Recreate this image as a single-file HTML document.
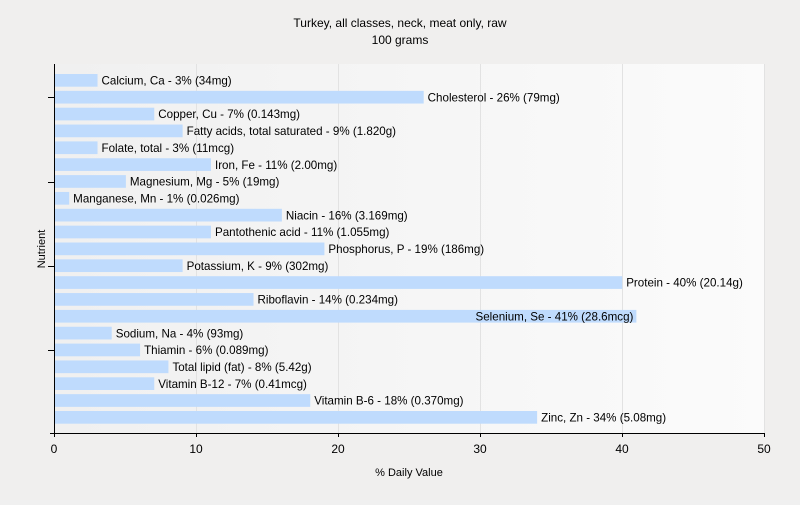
<!DOCTYPE html>
<html><head><style>
body{margin:0;width:800px;height:500px;background:#f0f0f0;font-family:"Liberation Sans",sans-serif;overflow:hidden}
</style></head><body>
<svg width="800" height="500" xmlns="http://www.w3.org/2000/svg" font-family="Liberation Sans, sans-serif">
<defs><linearGradient id="g" x1="0" x2="1" y1="0" y2="0"><stop offset="0" stop-color="#f0f0f0"/><stop offset="1" stop-color="#fbfbfb"/></linearGradient></defs>
<rect width="800" height="500" fill="#f0efee"/>
<rect x="54" y="64" width="710" height="369" fill="url(#g)"/>
<g stroke="#e2e2e2" stroke-width="1">
<line x1="196.5" y1="64" x2="196.5" y2="433"/><line x1="338.5" y1="64" x2="338.5" y2="433"/><line x1="480.5" y1="64" x2="480.5" y2="433"/><line x1="622.5" y1="64" x2="622.5" y2="433"/><line x1="764.5" y1="64" x2="764.5" y2="433"/>
</g>
<text x="400" y="27" font-size="12" text-anchor="middle">Turkey, all classes, neck, meat only, raw</text>
<text x="400" y="44" font-size="12" text-anchor="middle">100 grams</text>
<g fill="#bfdbfd" id="bars"></g>
<g font-size="11.6" fill="#000" id="labels"></g>
<g stroke="#000" stroke-width="1">
<line x1="54.5" y1="64" x2="54.5" y2="437"/><line x1="50" y1="433.5" x2="764" y2="433.5"/>
<line x1="48" y1="97.5" x2="54" y2="97.5"/><line x1="48" y1="182.5" x2="54" y2="182.5"/><line x1="48" y1="266.5" x2="54" y2="266.5"/><line x1="48" y1="350.5" x2="54" y2="350.5"/>
<line x1="196.5" y1="433" x2="196.5" y2="437"/><line x1="338.5" y1="433" x2="338.5" y2="437"/><line x1="480.5" y1="433" x2="480.5" y2="437"/><line x1="622.5" y1="433" x2="622.5" y2="437"/><line x1="764.5" y1="433" x2="764.5" y2="437"/>
</g>
<g font-size="12" text-anchor="middle">
<text x="54" y="453">0</text><text x="196" y="453">10</text><text x="338" y="453">20</text><text x="480" y="453">30</text><text x="622" y="453">40</text><text x="764" y="453">50</text>
</g>
<text x="409" y="476" font-size="11" text-anchor="middle">% Daily Value</text>
<text x="45" y="249" font-size="11" text-anchor="middle" transform="rotate(-90 45 249)">Nutrient</text>
<script>
var d=[["Calcium, Ca - 3% (34mg)",3],["Cholesterol - 26% (79mg)",26],["Copper, Cu - 7% (0.143mg)",7],["Fatty acids, total saturated - 9% (1.820g)",9],["Folate, total - 3% (11mcg)",3],["Iron, Fe - 11% (2.00mg)",11],["Magnesium, Mg - 5% (19mg)",5],["Manganese, Mn - 1% (0.026mg)",1],["Niacin - 16% (3.169mg)",16],["Pantothenic acid - 11% (1.055mg)",11],["Phosphorus, P - 19% (186mg)",19],["Potassium, K - 9% (302mg)",9],["Protein - 40% (20.14g)",40],["Riboflavin - 14% (0.234mg)",14],["Selenium, Se - 41% (28.6mcg)",41],["Sodium, Na - 4% (93mg)",4],["Thiamin - 6% (0.089mg)",6],["Total lipid (fat) - 8% (5.42g)",8],["Vitamin B-12 - 7% (0.41mcg)",7],["Vitamin B-6 - 18% (0.370mg)",18],["Zinc, Zn - 34% (5.08mg)",34]];
var b=document.getElementById('bars'),l=document.getElementById('labels'),ns="http://www.w3.org/2000/svg";
d.forEach(function(r,i){var y=74+i*16.85,w=r[1]*14.18;
var e=document.createElementNS(ns,'rect');e.setAttribute('x',55);e.setAttribute('y',y);e.setAttribute('width',w);e.setAttribute('height',12.7);b.appendChild(e);
var t=document.createElementNS(ns,'text');t.setAttribute('y',y+10.5);t.textContent=r[0];
if(r[1]===41){t.setAttribute('x',55+w-3);t.setAttribute('text-anchor','end');}else t.setAttribute('x',55+w+4);
l.appendChild(t);});
</script>
</svg>
</body></html>
